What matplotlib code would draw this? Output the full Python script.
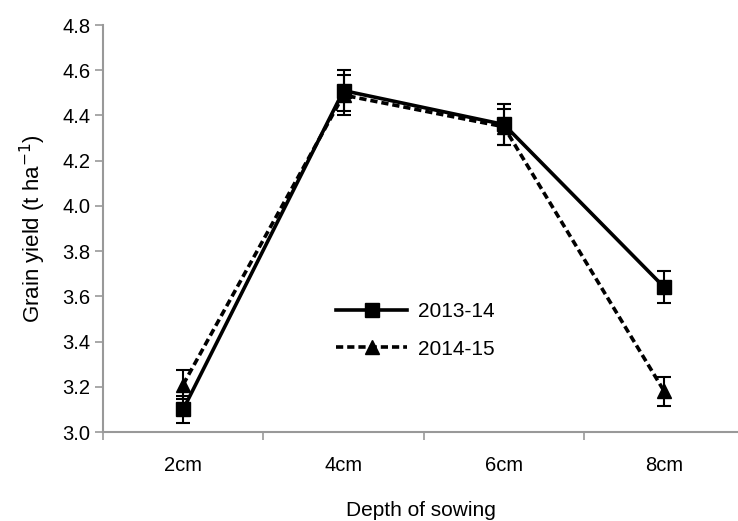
import numpy as np
import matplotlib.pyplot as plt
from matplotlib.lines import Line2D

plt.rcParams['font.family'] = ['Liberation Sans', 'DejaVu Sans']

depths = ['2cm', '4cm', '6cm', '8cm']
yield_1314 = [3.10, 4.51, 4.36, 3.64]
err_1314 = [0.06, 0.09, 0.09, 0.07]
yield_1415 = [3.21, 4.49, 4.35, 3.18]
err_1415 = [0.065, 0.09, 0.08, 0.065]
yticks = [3.0, 3.2, 3.4, 3.6, 3.8, 4.0, 4.2, 4.4, 4.6, 4.8]

dash = (0, (2.0, 1.1))

fig = plt.figure(figsize=(7.38, 5.21), dpi=100)
ax = fig.add_axes([103 / 738, 1 - 432 / 521, 1 - 103 / 738, (432 - 25) / 521])

x = np.arange(len(depths))
ax.errorbar(x, yield_1415, yerr=err_1415, color='black', linestyle=dash,
            linewidth=2.6, marker='^', markersize=10, capsize=5, elinewidth=1.5,
            capthick=1.5)
ax.errorbar(x, yield_1314, yerr=err_1314, color='black', linestyle='-',
            linewidth=2.6, marker='s', markersize=10, capsize=5, elinewidth=1.5,
            capthick=1.5)

ax.set_xlim(-0.5, 3.46)
ax.set_ylim(3.0, 4.8)
ax.set_yticks(yticks)
ax.set_yticklabels([f'{v:.1f}' for v in yticks])
ax.set_xticks(x)
ax.set_xticklabels(depths)
ax.set_xticks(np.arange(-0.5, 3.5, 1.0), minor=True)
ax.tick_params(axis='x', which='major', length=0, pad=17, labelsize=14.5)
ax.tick_params(axis='x', which='minor', length=6, color='#999999', width=1.2)
ax.tick_params(axis='y', length=6, color='#999999', width=1.2, labelsize=14.5, pad=3)

for s in ['top', 'right']:
    ax.spines[s].set_visible(False)
for s in ['left', 'bottom']:
    ax.spines[s].set_color('#999999')
    ax.spines[s].set_linewidth(1.5)

ax.set_ylabel('Grain yield (t ha$^{-1}$)', fontsize=16, labelpad=10)
ax.set_xlabel('Depth of sowing', fontsize=15, labelpad=19)

handles = [
    Line2D([], [], color='black', linestyle='-', linewidth=2.6, marker='s', markersize=10),
    Line2D([], [], color='black', linestyle=dash, linewidth=2.6, marker='^', markersize=10),
]
ax.legend(handles, ['2013-14', '2014-15'], loc='center left',
          bbox_to_anchor=(0.338, 0.25), frameon=False, fontsize=15,
          handlelength=3.4, labelspacing=0.9, handletextpad=0.5)

fig.savefig('out.png', dpi=100)
